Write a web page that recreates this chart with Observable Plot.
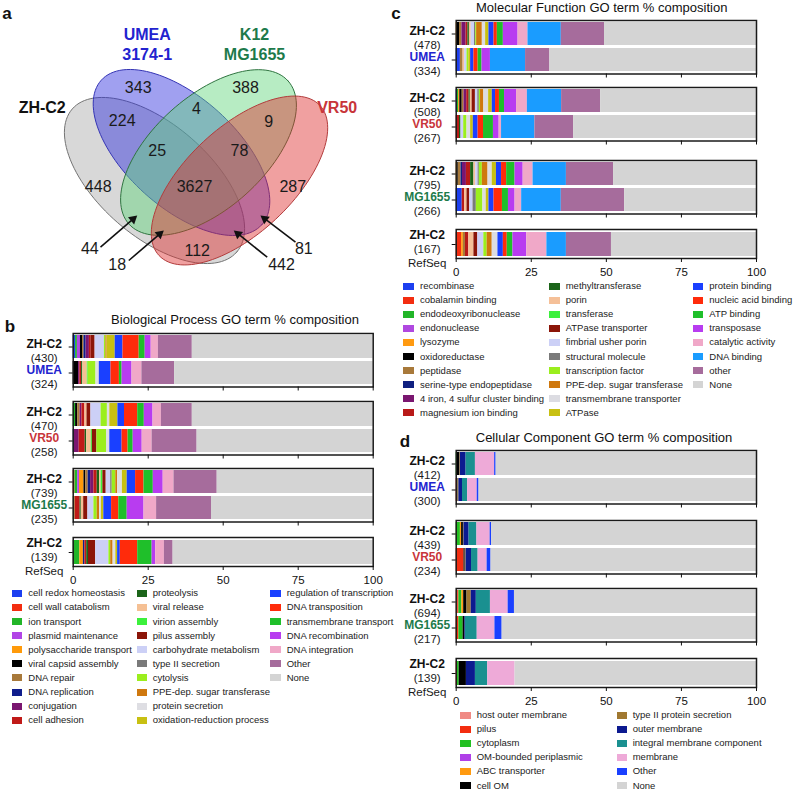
<!DOCTYPE html>
<html><head><meta charset="utf-8">
<script src="https://cdn.jsdelivr.net/npm/d3@7"></script>
<script src="https://cdn.jsdelivr.net/npm/@observablehq/plot@0.6"></script>
<style>
body{margin:0;background:#fff;font-family:"Liberation Sans",Arial,sans-serif;color:#111;}
#page{position:relative;width:793px;height:791px;overflow:hidden;background:#fff;}
#page svg{position:absolute;overflow:visible;background:transparent;}
.letter{position:absolute;font-weight:bold;font-size:17px;line-height:1;transform:translate(-50%,-50%);}
.title{position:absolute;font-size:13px;line-height:1;white-space:nowrap;transform:translate(-50%,-50%);}
.lt{position:absolute;font-size:9.5px;line-height:12px;white-space:nowrap;color:#222;}
.sw{position:absolute;width:10.5px;height:7px;}
</style></head><body><div id="page"></div>
<script>
const FONT = "Liberation Sans, Arial, sans-serif";

// ---------------- DATA ----------------
// Panel a: Venn
const vennSets = ["ZH-C2", "UMEA\n3174-1", "K12\nMG1655", "VR50"];
const vennSetColors = ["#111111", "#2323cf", "#1d7a4b", "#c8353a"];
const vennRegionCounts = [448, 343, 388, 287, 224, 4, 9, 25, 78, 3627, 112, 44, 18, 442, 81];

// Bars (shared labels)
const barNames = ["ZH-C2", "UMEA", "ZH-C2", "VR50", "ZH-C2", "MG1655", "ZH-C2"];
const barNotes = ["", "", "", "", "", "", "RefSeq"];
const nameColors = {"ZH-C2": "#111111", "UMEA": "#2323cf", "VR50": "#c8353a", "MG1655": "#1d7a4b"};
const barGroups = [[0, 1], [2, 3], [4, 5], [6]];
const axisTicks = [0, 25, 50, 75, 100];

// Panel b: Biological Process
const bpTitle = "Biological Process GO term % composition";
const bpCounts = [430, 324, 470, 258, 739, 235, 139];
const bpCats = ["cell redox homeostasis","cell wall catabolism","ion transport","plasmid maintenance","polysaccharide transport","viral capsid assembly","DNA repair","DNA replication","conjugation","cell adhesion","proteolysis","viral release","virion assembly","pilus assembly","carbohydrate metabolism","type II secretion","cytolysis","PPE-dep. sugar transferase","protein secretion","oxidation-reduction process","regulation of transcription","DNA transposition","transmembrane transport","DNA recombination","DNA integration","Other"];
const bpColors = ["#1c3ff0","#f32d10","#22b528","#b245e6","#ff9a0a","#000000","#a8793a","#0f1d8c","#7a1670","#c01a18","#1b6419","#f5c094","#3cf03c","#8b1508","#ccd0f6","#7a7a7a","#9bee1e","#cf780e","#dedee3","#c8c012","#1a40ff","#ff2b0b","#1fbf2a","#b83cf0","#f0a8c8","#a66c9c"];
const bpValues = [
  [0.8,0,0.6,1.0,0,0.7,0.5,0.7,1.1,0.6,0,0,0,1.3,3.1,0,0.5,0.4,0,2.7,2.6,5.4,2.0,2.0,2.4,11.3],
  [0,0,0,0,0,1.8,0,0,0.4,0.6,0.4,1.5,0.3,0,0,0,2.6,0,1.1,0,3.9,2.8,0.9,3.3,3.3,10.9],
  [0,0,0.8,0,0,0.7,0.8,0,0.6,1.0,0,0.7,0,1.3,3.4,0,2.1,0,0.8,2.7,2.2,4.4,2.2,2.9,2.8,10.3],
  [0,0,0,0,0,0,0,0.4,1.6,2.0,0.5,1.5,0.4,1.5,0,0,3.2,0,1.1,0,4.1,2.0,1.7,3.0,3.3,15.0],
  [0,0.6,0.9,0.6,1.5,0.6,0.8,0.8,1.1,1.1,0.8,0.5,0.6,1.1,1.5,0.5,1.2,0.6,1.6,1.6,2.8,2.8,3.1,3.3,3.6,14.4],
  [0,0,0,0,0,0,0.7,0,0,1.6,0.4,0.8,0,1.4,2.0,0,1.1,0.8,0.6,0.8,2.6,2.4,2.8,5.6,4.2,18.3],
  [0,0,2.2,0,1.2,0,0,0.5,0,0.6,0.6,0,0,2.4,4.4,0,0.6,0.8,0.9,0.6,0.9,5.8,4.8,1.2,2.9,2.9]
];

// Panel c: Molecular Function
const mfTitle = "Molecular Function GO term % composition";
const mfCounts = [478, 334, 508, 267, 795, 266, 167];
const mfCats = ["recombinase","cobalamin binding","endodeoxyribonuclease","endonuclease","lysozyme","oxidoreductase","peptidase","serine-type endopeptidase","4 iron, 4 sulfur cluster binding","magnesium ion binding","methyltransferase","porin","transferase","ATPase transporter","fimbrial usher porin","structural molecule","transcription factor","PPE-dep. sugar transferase","transmembrane transporter","ATPase","protein binding","nucleic acid binding","ATP binding","transposase","catalytic activity","DNA binding","other"];
const mfColors = ["#1c3ff0","#f32d10","#22b528","#b048e0","#ff9a10","#000000","#a8793a","#0f2080","#7a1670","#b81a18","#1b6419","#f5c098","#3cf03c","#8b1508","#ccd0f6","#7a7a7a","#9bee1e","#cf780e","#dcdce2","#c8c012","#1a40ff","#ff2b0b","#1fbf2a","#b83cf0","#f0a8c8","#1a9cff","#a66c9c"];
const mfValues = [
  [0,0,0,0,0.3,0.8,0.8,0,1.4,0.6,0.5,0.6,0,0,1.1,0.4,0.3,1.9,1.1,1.1,1.7,1.1,2.0,4.9,3.3,11.1,14.4],
  [1.4,0,0,0,0,0,0.9,0,0,0,0,0.5,0,0,0.8,0,0.6,0,0,0.6,1.1,1.4,1.3,2.8,0,11.7,8.1],
  [0.4,0,0.4,0,0.4,0.8,0.6,0,0.9,0.8,0.4,0.6,0,1.1,0.8,0.5,0.4,1.1,1.6,1.2,1.1,1.3,1.7,4.0,3.6,11.4,13.0],
  [0,0,0,0,0,0,0,0,0,1.1,0.5,0,0,0,0.9,0,1.1,0,1.2,0.9,1.6,1.8,3.3,1.9,0.8,11.1,12.9],
  [0,0,0,0,0.4,0.3,0.9,0.5,1.3,1.4,1.1,0.6,0,0,0.8,0.4,1.0,1.9,1.4,1.4,1.7,1.7,2.8,2.7,3.3,11.1,15.7],
  [2.0,0,0,0,0,0,0,0,0,0.8,0,0.8,0,0.9,1.1,1.1,2.2,0,1.1,0.9,1.7,2.8,2.0,2.2,2.2,13.2,21.1],
  [0,1.8,0,0,0.6,0,0.7,0,0,1.1,0,1.7,0,1.3,2.0,0,1.1,1.7,1.9,0,1.8,1.3,1.9,4.6,6.7,6.5,15.0]
];

// Panel d: Cellular Component
const ccTitle = "Cellular Component GO term % composition";
const ccCounts = [412, 300, 439, 234, 694, 217, 139];
const ccCats = ["host outer membrane","pilus","cytoplasm","OM-bounded periplasmic","ABC transporter","cell OM","type II protein secretion","outer membrane","integral membrane component","membrane","Other"];
const ccColors = ["#f08a84","#f32d10","#22c022","#b040e8","#ff9a10","#000000","#a07830","#0c1a90","#1a9090","#eeaad8","#1a40ff"];
const ccValues = [
  [0,0,0.3,0,0,0.9,0.2,1.9,3.1,6.4,0.5],
  [0,0.3,0,0,0,0.3,0.3,1.2,1.7,3.2,0.6],
  [0,0,1.4,0,0.4,0.6,0.2,1.7,2.6,4.4,0.5],
  [0,2.6,0,0,0,0.4,0.3,1.8,2.2,3.0,1.3],
  [0.5,0.4,1.0,0,0.6,1.1,1.4,1.7,4.7,5.9,2.1],
  [0,0.9,1.4,0,0,0.6,0,0.2,3.9,5.9,2.4],
  [0,0.4,0.6,0,0,2.4,0,3.0,4.1,9.1,0]
];
const noneLabel = "None";
const noneColor = "#d4d4d4";

// ---------------- LAYOUT ----------------
const vennEllipses = [
  {cx:154, cy:180, a:109, b:56, rot:41, fill:"#a8a8a8", stroke:"#747474"},
  {cx:181, cy:152, a:108, b:55, rot:42, fill:"#2c2cde", stroke:"#3434b4"},
  {cx:208, cy:152, a:107, b:56, rot:-42, fill:"#5fd47a", stroke:"#2f7440"},
  {cx:239, cy:180, a:110, b:53, rot:-43, fill:"#de2c2c", stroke:"#b23c3c"}
];
const vennSetPos = [[41.7,106],[146.7,43.3],[254,43.3],[336.7,106]];
const vennCountPos = [[97.7,186],[137.7,87.3],[245,87.3],[292.3,186],[121.7,120.7],[196,108.3],[268.3,121.7],[156.7,150.7],[239,150.7],[194,186],[196.7,250.7],[89.3,248.3],[116.7,264],[281,264],[303.3,248.3]];
const vennArrowPos = [[100,246.7,136.7,215],[128.3,260,163.3,230],[266.7,256.7,233.3,230],[295,241.7,260,215]];

const panels = [
  {title: bpTitle, tx:235, ty:319.3, cats: bpCats, colors: bpColors, values: bpValues, counts: bpCounts,
   left:0, width:400, ml:72.7, mr:27.3, tops:[332.7,400.7,468,536.7],
   legend:{cols:[10,10,7], sx:[11.7,136.7,270], tx:[28.3,152.7,286.7], y0:593.3}},
  {title: mfTitle, tx:601.7, ty:6.5, cats: mfCats, colors: mfColors, values: mfValues, counts: mfCounts,
   left:400, width:393, ml:55.7, mr:37, tops:[20,87.3,160,229.3],
   legend:{cols:[10,10,8], sx:[403,549,692.7], tx:[420,565.7,709.3], y0:286}},
  {title: ccTitle, tx:604, ty:436.7, cats: ccCats, colors: ccColors, values: ccValues, counts: ccCounts,
   left:400, width:393, ml:55.7, mr:37, tops:[450,520,588.3,658.3],
   legend:{cols:[6,6], sx:[460,616.7], tx:[476.7,632.7], y0:715}}
];
const letters = [["a",7,12.5],["b",10,326],["c",396,12.5],["d",405,441]];
const rowStep = 14.1;

// ---------------- DRAW ----------------
const page = document.getElementById("page");
function place(el, left, top) { el.style.left = left + "px"; el.style.top = top + "px"; page.appendChild(el); }

function ellipsePoints(e) {
  const r = e.rot * Math.PI / 180;
  return d3.range(0, 361, 3).map(deg => {
    const t = deg * Math.PI / 180, u = e.a * Math.cos(t), v = e.b * Math.sin(t);
    return {x: e.cx + u * Math.cos(r) - v * Math.sin(r), y: e.cy + u * Math.sin(r) + v * Math.cos(r)};
  });
}

// Venn
const headR = 3.5, tipOffset = 5.4;
const countRows = vennRegionCounts.map((n, i) => ({n, x: vennCountPos[i][0], y: vennCountPos[i][1]}));
const setRows = vennSets.map((name, i) => ({name, color: vennSetColors[i], x: vennSetPos[i][0], y: vennSetPos[i][1]}));
const arrowRows = vennArrowPos.map(([x1, y1, x2, y2]) => {
  const ang = Math.atan2(y2 - y1, x2 - x1), len = Math.hypot(x2 - x1, y2 - y1);
  const ux = (x2 - x1) / len, uy = (y2 - y1) / len;
  return {x1, y1, x2: x2 - ux * 4, y2: y2 - uy * 4, hx: x2 - ux * tipOffset, hy: y2 - uy * tipOffset, rot: ang * 180 / Math.PI + 90};
});
const venn = Plot.plot({
  width: 400, height: 280, margin: 0,
  x: {domain: [0, 400], range: [0, 400], axis: null},
  y: {domain: [0, 280], range: [0, 280], axis: null},
  style: {fontFamily: FONT, background: "transparent"},
  marks: [
    ...vennEllipses.map(e => Plot.line(ellipsePoints(e), {x: "x", y: "y", curve: "linear-closed", fill: e.fill, fillOpacity: 0.45, stroke: e.stroke, strokeWidth: 1})),
    Plot.link(arrowRows, {x1: "x1", y1: "y1", x2: "x2", y2: "y2", stroke: "#111", strokeWidth: 1.6}),
    Plot.dot(arrowRows, {x: "hx", y: "hy", symbol: "triangle", r: headR, rotate: "rot", fill: "#111", stroke: "none"}),
    Plot.text(countRows, {x: "x", y: "y", text: d => String(d.n), fontSize: 16, fill: "#1a1a1a"}),
    ...setRows.map(d => Plot.text([d], {x: "x", y: "y", text: "name", fontSize: 16, fontWeight: "bold", fill: d.color, lineHeight: 1.25}))
  ]
});
place(venn, 0, 0);

function drawBox(p, gi) {
  const idx = barGroups[gi];
  const isLast = gi === barGroups.length - 1;
  const data = [];
  for (const i of idx) {
    let s = 0;
    p.values[i].forEach((v, k) => { if (v > 0) { data.push({bar: String(i), cat: p.cats[k], v}); s += v; } });
    data.push({bar: String(i), cat: noneLabel, v: Math.max(0, 100 - s)});
  }
  const boxH = idx.length === 2 ? 53.5 : 29;
  const mt = 2, mb = isLast ? 24 : 8;
  const rows = idx.map(i => ({bar: String(i), name: barNames[i], count: "(" + p.counts[i] + ")", note: barNotes[i], color: nameColors[barNames[i]]}));
  const three = rows.some(d => d.note);
  const colorsUsed = [...new Set(rows.map(d => d.color))];
  const fs = 11.5;
  const chart = Plot.plot({
    width: p.width, height: boxH + mt + mb,
    marginLeft: p.ml, marginRight: p.mr, marginTop: mt, marginBottom: mb,
    style: {fontFamily: FONT, fontSize: "12px", background: "transparent", color: "#111"},
    x: {domain: [0, 100]},
    y: {domain: idx.map(String), paddingInner: 0.12, paddingOuter: 0.08},
    color: {type: "ordinal", domain: [...p.cats, noneLabel], range: [...p.colors, noneColor]},
    marks: [
      Plot.barX(data, {x: "v", y: "bar", fill: "cat"}),
      Plot.frame({stroke: "#1a1a1a", strokeWidth: 1.5}),
      Plot.axisX({ticks: axisTicks, tickSize: 4, tickFormat: isLast ? (d => String(d)) : (() => ""), fontSize: 11.5, label: null}),
      Plot.axisY({tickSize: 4, tickFormat: () => "", label: null}),
      ...colorsUsed.map(c => Plot.text(rows.filter(d => d.color === c), {y: "bar", frameAnchor: "left", text: "name", dx: -29, dy: three ? -9.5 : -2.7, textAnchor: "middle", fontWeight: "bold", fontSize: fs + 0.5, fill: c})),
      Plot.text(rows, {y: "bar", frameAnchor: "left", text: "count", dx: -29, dy: three ? 4.5 : 11, textAnchor: "middle", fontSize: fs, fill: "#1a1a1a"}),
      Plot.text(rows.filter(d => d.note), {y: "bar", frameAnchor: "left", text: "note", dx: -29, dy: 18.5, textAnchor: "middle", fontSize: fs, fill: "#1a1a1a"})
    ]
  });
  place(chart, p.left, p.tops[gi] - mt);
}

function drawLegend(p) {
  const items = [...p.cats.map((c, i) => [c, p.colors[i]]), [noneLabel, noneColor]];
  let k = 0;
  p.legend.cols.forEach((n, ci) => {
    for (let r = 0; r < n; r++, k++) {
      const [label, color] = items[k];
      const cy = p.legend.y0 + r * rowStep;
      const sw = document.createElement("div");
      sw.className = "sw"; sw.style.background = color;
      place(sw, p.legend.sx[ci], cy - 3.5);
      const t = document.createElement("div");
      t.className = "lt"; t.textContent = label;
      place(t, p.legend.tx[ci], cy - 6);
    }
  });
}

for (const p of panels) {
  barGroups.forEach((g, gi) => drawBox(p, gi));
  const t = document.createElement("div");
  t.className = "title"; t.textContent = p.title;
  place(t, p.tx, p.ty);
  drawLegend(p);
}
for (const [ch, x, y] of letters) {
  const el = document.createElement("div");
  el.className = "letter"; el.textContent = ch;
  place(el, x, y);
}
</script></body></html>
